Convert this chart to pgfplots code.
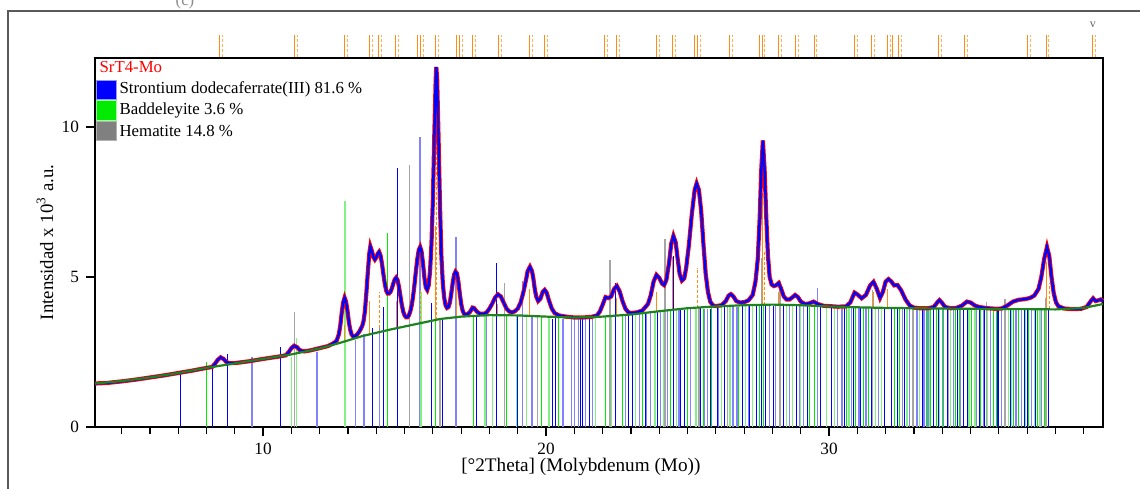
\documentclass[border=0pt]{standalone}
\usepackage{pgfplots}
\pgfplotsset{compat=1.18}
\usepackage{pgfplotstable}
\usepackage{fontspec}
\setmainfont{Liberation Serif}
\definecolor{sblue}{RGB}{0,0,255}
\definecolor{lblue}{RGB}{130,130,255}
\definecolor{sgreen}{RGB}{0,235,0}
\definecolor{lgreen}{RGB}{130,240,130}
\definecolor{sgray}{RGB}{128,128,128}
\definecolor{lgray}{RGB}{165,165,165}
\definecolor{bggreen}{RGB}{30,130,30}
\definecolor{orng}{RGB}{255,140,20}
\definecolor{lorng}{RGB}{255,175,90}

\pgfplotstableread{
x y
4.06 1.45
4.5 1.47
5.0 1.52
5.5 1.58
6.0 1.65
6.5 1.72
7.0 1.80
7.5 1.88
8.0 1.97
8.2 2.00
8.3 2.11
8.4 2.24
8.5 2.32
8.6 2.27
8.7 2.17
8.8 2.13
9.0 2.13
9.5 2.19
10.0 2.27
10.5 2.34
10.8 2.39
10.9 2.49
11.0 2.63
11.1 2.71
11.2 2.66
11.3 2.56
11.45 2.52
11.7 2.56
12.0 2.63
12.3 2.70
12.5 2.80
12.6 2.88
12.68 3.10
12.73 3.40
12.78 3.82
12.83 4.15
12.88 4.31
12.93 4.18
12.98 3.89
13.03 3.50
13.08 3.24
13.13 3.08
13.2 3.00
13.3 3.06
13.4 3.18
13.5 3.36
13.55 3.53
13.6 3.88
13.65 4.48
13.7 5.15
13.75 5.76
13.79 6.02
13.85 5.85
13.9 5.66
13.95 5.58
14.0 5.65
14.05 5.78
14.1 5.84
14.15 5.72
14.2 5.45
14.25 5.10
14.3 4.78
14.35 4.55
14.4 4.45
14.45 4.45
14.5 4.50
14.55 4.62
14.6 4.78
14.65 4.92
14.7 4.98
14.75 4.90
14.8 4.68
14.85 4.38
14.9 4.08
14.95 3.85
15.0 3.72
15.05 3.66
15.1 3.66
15.15 3.72
15.2 3.85
15.25 4.05
15.3 4.35
15.35 4.75
15.4 5.20
15.45 5.60
15.5 5.90
15.55 6.00
15.6 5.85
15.65 5.45
15.7 4.98
15.75 4.65
15.8 4.57
15.85 4.72
15.9 5.20
15.95 6.10
16.0 7.60
16.05 9.70
16.1 11.60
16.12 12.00
16.15 11.60
16.2 9.60
16.25 7.40
16.3 5.70
16.35 4.80
16.4 4.30
16.45 4.05
16.5 3.97
16.55 4.00
16.6 4.15
16.65 4.45
16.7 4.80
16.75 5.08
16.8 5.18
16.85 5.12
16.9 4.85
16.95 4.45
17.0 4.10
17.05 3.88
17.1 3.78
17.15 3.75
17.2 3.75
17.3 3.82
17.4 3.98
17.45 3.97
17.55 3.85
17.65 3.78
17.8 3.77
17.9 3.82
18.0 3.95
18.1 4.12
18.2 4.32
18.3 4.42
18.4 4.35
18.5 4.15
18.6 3.95
18.7 3.85
18.8 3.82
18.9 3.86
19.0 3.95
19.1 4.15
19.2 4.50
19.3 4.95
19.35 5.20
19.43 5.34
19.5 5.20
19.55 4.95
19.6 4.60
19.65 4.35
19.72 4.20
19.8 4.28
19.88 4.50
19.95 4.57
20.02 4.48
20.1 4.22
20.2 3.95
20.3 3.80
20.45 3.72
20.7 3.68
21.0 3.65
21.3 3.65
21.6 3.67
21.8 3.72
21.9 3.85
22.0 4.08
22.1 4.33
22.2 4.30
22.3 4.35
22.4 4.60
22.5 4.70
22.6 4.52
22.7 4.20
22.8 3.95
22.9 3.83
23.0 3.80
23.2 3.82
23.4 3.88
23.6 4.10
23.7 4.40
23.8 4.85
23.9 5.07
24.0 4.97
24.1 4.78
24.17 4.73
24.25 4.90
24.35 5.50
24.42 6.10
24.5 6.37
24.58 6.15
24.65 5.60
24.72 5.10
24.8 4.88
24.88 4.95
24.95 5.30
25.05 6.10
25.15 7.10
25.25 7.90
25.32 8.12
25.4 7.90
25.48 7.20
25.56 6.10
25.64 5.10
25.72 4.50
25.8 4.18
25.9 4.05
26.0 4.03
26.2 4.06
26.35 4.20
26.45 4.38
26.53 4.43
26.62 4.35
26.72 4.20
26.85 4.15
27.0 4.16
27.15 4.22
27.3 4.40
27.4 4.85
27.48 5.60
27.55 7.00
27.6 8.50
27.66 9.55
27.72 8.60
27.78 7.00
27.84 5.70
27.9 5.00
27.97 4.75
28.05 4.70
28.12 4.72
28.22 4.80
28.3 4.62
28.4 4.35
28.5 4.25
28.6 4.25
28.7 4.32
28.8 4.40
28.9 4.33
29.0 4.18
29.15 4.10
29.3 4.12
29.45 4.18
29.6 4.10
29.8 4.04
30.0 4.03
30.3 4.01
30.6 4.02
30.75 4.15
30.9 4.48
31.0 4.42
31.15 4.29
31.3 4.40
31.45 4.72
31.57 4.84
31.68 4.62
31.8 4.30
31.9 4.50
32.0 4.85
32.1 4.93
32.2 4.85
32.3 4.72
32.42 4.73
32.55 4.55
32.7 4.25
32.85 4.05
33.0 3.98
33.2 3.96
33.5 3.96
33.7 4.00
33.82 4.15
33.9 4.23
33.98 4.15
34.1 4.00
34.3 3.96
34.5 3.97
34.7 4.05
34.87 4.18
35.0 4.15
35.15 4.05
35.3 4.00
35.6 3.96
35.9 3.94
36.1 3.95
36.3 4.05
36.5 4.18
36.7 4.24
36.9 4.26
37.1 4.30
37.25 4.38
37.4 4.60
37.5 5.00
37.6 5.60
37.7 6.00
37.78 5.70
37.86 5.00
37.94 4.45
38.02 4.15
38.1 4.03
38.3 3.95
38.6 3.93
38.9 3.94
39.1 4.00
39.25 4.20
39.33 4.29
39.42 4.20
39.5 4.22
39.6 4.25
39.68 4.20
}\calc

\pgfplotstableread{
x y
4.06 1.45
5 1.53
6 1.65
7 1.80
8 1.97
9 2.12
10 2.27
11 2.42
12 2.62
12.7 2.80
13.5 3.03
14.5 3.25
15.5 3.45
16.25 3.60
17 3.68
18 3.73
19 3.72
20 3.68
21 3.65
22 3.68
23 3.75
24 3.86
25 3.96
26 4.02
27 4.06
28 4.08
29 4.06
30 4.02
31 3.99
32 3.97
33 3.96
34 3.95
35 3.94
36 3.93
37 3.93
38 3.92
39 3.97
39.68 4.10
}\bkg

\begin{document}
\begin{tikzpicture}[font=\fontsize{8.4}{10}\selectfont]
\useasboundingbox (0,0) rectangle (570pt,-244pt);
% outer frame
\draw[line width=1pt, color=black!65] (4pt,-250pt) -- (4pt,-5.5pt) -- (580pt,-5.5pt);
\node[text=black!45, anchor=center] at (92.5pt,-0.5pt) {(c)};
\begin{axis}[
  at={(47.5pt,-213.5pt)}, anchor=south west,
  scale only axis, width=504pt, height=184.5pt,
  xmin=4.06, xmax=39.68, ymin=0, ymax=12.3,
  clip=false,
  axis line style={line width=1pt},
  xtick={10,20,30}, ytick={0,5,10},
  minor xtick={5,6,7,8,9,11,12,13,14,15,16,17,18,19,21,22,23,24,25,26,27,28,29,31,32,33,34,35,36,37,38,39},
  tick align=outside, tick pos=left,
  major tick length=4.5pt, minor tick length=3.5pt,
  every tick/.style={black, line width=0.6pt},
  /pgf/number format/assume math mode=true,
  ticklabel style={font=\fontsize{8.6}{10}\selectfont},
  xlabel={[°2Theta] (Molybdenum (Mo))},
  ylabel={Intensidad x 10\textsuperscript{3} a.u.},
  xlabel style={at={(axis description cs:0.482,-0.108)}, anchor=center, font=\fontsize{9.6}{11}\selectfont},
  ylabel style={at={(axis description cs:-0.0496,0.5)}, anchor=center, font=\fontsize{9.4}{11}\selectfont},
  unbounded coords=jump,
]
% reference sticks
\addplot[ycomb, color=lblue, line width=0.7pt, mark=none] coordinates {
(9.61,2.34) (11.9,2.51) (13.27,2.9) (13.57,3.1) (14.11,3.4) (15.55,9.67) (16.82,6.34) (17.9,3.7) (19.16,4.87) (19.5,3.75) (20.6,3.6) (21.0,3.6) (21.4,3.6) (21.63,3.62) (22.8,3.75) (23.3,3.8) (23.7,3.82) (24.3,3.9) (24.7,3.9) (25.1,3.95) (25.6,3.95) (26.1,4.0) (26.6,4.0) (27.15,4.05) (27.9,4.05) (28.1,4.05) (28.6,4.05) (29.1,4.05) (29.6,4.64) (30.3,4.0) (30.8,4.0) (31.3,4.0) (31.75,4.0) (32.6,3.98) (33.1,3.95) (33.5,3.95) (34.0,3.95) (34.4,3.95) (35.2,3.95) (35.7,3.95) (36.1,3.95) (36.8,3.9) (37.15,3.9) (37.5,3.9)
(20.9,3.6) (21.15,3.6) (23.55,3.8) (24.05,3.85) (25.7,3.95) (26.75,4.0) (28.95,4.05) (30.45,4.0) (31.05,4.0) (32.85,3.96) (33.35,3.95) (34.65,3.95) (35.45,3.95) (36.6,3.92)};
\addplot[ycomb, color=lgreen, line width=0.7pt, mark=none] coordinates {
(11.01,2.34) (11.19,2.97) (12.9,7.54) (15.58,4.51) (17.84,3.7) (18.95,3.7) (20.1,3.68) (22.3,3.7) (23.15,3.8) (23.85,3.85) (24.6,3.9) (25.3,3.95) (26.2,4.0) (26.5,4.0) (27.3,4.05) (28.5,4.05) (29.0,4.05) (29.9,4.0) (30.2,4.0) (30.7,4.0) (31.65,4.0) (32.75,3.98) (33.2,3.95) (33.9,3.95) (34.3,3.95) (34.95,3.95) (35.6,3.95) (36.2,3.95) (36.45,3.95) (36.95,3.9) (37.45,3.9)
(18.1,3.7) (19.3,3.7) (21.75,3.65) (24.15,3.88) (27.05,4.05) (28.7,4.05) (31.85,4.0) (33.55,3.95) (35.15,3.95) (36.35,3.95) (37.25,3.9)};
\addplot[ycomb, color=sgreen, line width=0.5pt, mark=none] coordinates {
(8.0,2.18) (14.4,6.47) (16.08,3.8) (17.43,3.7) (18.6,3.7) (19.85,3.7) (22.1,3.7) (23.4,3.8) (24.4,3.9) (25.0,3.95) (25.55,3.95) (26.8,4.0) (27.55,4.05) (27.7,4.05) (28.3,4.05) (29.3,4.05) (30.6,4.0) (31.2,4.0) (31.4,4.0) (32.3,4.0) (32.5,4.0) (33.0,3.95) (33.45,3.95) (33.6,3.95) (33.8,3.95) (34.05,3.95) (34.6,3.95) (35.05,3.95) (35.35,3.95) (35.8,3.95) (36.5,3.95) (36.7,3.95) (37.05,3.9) (37.35,3.9) (37.6,3.9)
(20.45,3.65) (22.7,3.72) (25.85,3.98) (29.5,4.05) (30.95,4.0) (34.45,3.95) (35.9,3.95)};
\addplot[ycomb, color=lgray, line width=0.7pt, mark=none] coordinates {
(11.12,3.84) (15.17,8.73) (16.25,3.6) (18.52,4.81) (19.69,3.75) (22.26,5.57) (24.2,6.27) (25.4,4.0) (26.4,4.0) (27.62,5.63) (28.27,4.88) (31.53,4.57) (32.97,3.95) (34.22,4.0) (35.57,4.18) (36.22,4.27) (37.67,4.3)};
\addplot[ycomb, color=sblue, line width=0.5pt, mark=none] coordinates {
(7.08,1.81) (8.21,2.07) (8.74,2.43) (10.62,2.68) (13.88,3.3) (14.25,4.0) (14.75,8.63) (15.96,4.13) (16.35,3.63) (17.53,3.7) (18.23,5.47) (19.0,3.7) (20.22,3.6) (20.34,3.65) (21.3,3.6) (21.55,3.62) (22.44,4.8) (23.05,3.75) (23.5,3.8) (23.95,3.85) (24.5,5.7) (24.9,3.9) (25.44,4.0) (25.8,3.95) (26.3,4.0) (26.95,4.05) (27.45,4.05) (27.62,4.1) (27.75,4.05) (28.4,4.05) (28.85,4.05) (29.7,4.0) (30.1,4.0) (30.55,3.98) (31.1,4.0) (31.5,4.0) (31.95,4.0) (32.2,4.0) (32.4,4.0) (33.3,3.95) (33.7,3.95) (34.2,3.95) (34.55,3.95) (34.75,3.95) (34.9,3.95) (35.5,3.95) (35.95,3.95) (36.0,3.95) (37.0,3.9) (37.3,3.9) (37.75,3.9)
(21.2,3.6) (22.9,3.75) (24.75,3.9) (26.05,4.0) (27.2,4.05) (28.05,4.05) (29.25,4.05) (30.85,4.0) (32.65,3.97) (33.85,3.95) (35.3,3.95) (36.4,3.95) (36.9,3.92)};
% orange peak markers inside
\addplot[color=orng, line width=0.5pt, mark=none] coordinates {
(12.88,2.85) (12.88,3.4) (12.88,nan)
(13.75,3.1) (13.75,4.2) (13.75,nan)
(14.7,3.3) (14.7,4.2) (14.7,nan)
(16.10,3.58) (16.10,6.7) (16.10,nan)
(16.82,3.65) (16.82,4.6) (16.82,nan)
(18.3,3.73) (18.3,4.1) (18.3,nan)
(19.43,3.72) (19.43,4.6) (19.43,nan)
(22.48,3.7) (22.48,4.3) (22.48,nan)
(23.9,3.85) (23.9,4.5) (23.9,nan)
(24.48,3.9) (24.48,5.68) (24.48,nan)
(27.64,4.08) (27.64,7.8) (27.64,nan)
(28.22,4.08) (28.22,4.5) (28.22,nan)
(31.57,3.99) (31.57,4.5) (31.57,nan)
(32.08,3.97) (32.08,4.6) (32.08,nan)
(37.7,3.93) (37.7,5.5)};
\addplot[color=orng, line width=0.5pt, dash pattern=on 1.5pt off 1pt, mark=none] coordinates {
(14.12,3.15) (14.12,4.5) (14.12,nan)
(15.55,3.45) (15.55,4.6) (15.55,nan)
(16.14,3.58) (16.14,9.67) (16.14,nan)
(25.35,3.96) (25.35,5.3) (25.35,nan)
(27.72,4.08) (27.72,5.9) (27.72,nan)
(37.8,3.93) (37.8,4.8)};
% top orange reflection ticks
\addplot[color=orng, line width=0.5pt, mark=none] coordinates {
(8.46,12.33) (8.46,13.07) (8.46,nan) (11.11,12.33) (11.11,13.07) (11.11,nan)
(12.87,12.33) (12.87,13.07) (12.87,nan) (13.76,12.33) (13.76,13.07) (13.76,nan)
(14.07,12.33) (14.07,13.07) (14.07,nan) (14.67,12.33) (14.67,13.07) (14.67,nan)
(15.47,12.33) (15.47,13.07) (15.47,nan) (15.57,12.33) (15.57,13.07) (15.57,nan)
(16.10,12.33) (16.10,13.07) (16.10,nan) (16.82,12.33) (16.82,13.07) (16.82,nan)
(16.95,12.33) (16.95,13.07) (16.95,nan) (17.40,12.33) (17.40,13.07) (17.40,nan)
(18.31,12.33) (18.31,13.07) (18.31,nan) (19.41,12.33) (19.41,13.07) (19.41,nan)
(19.94,12.33) (19.94,13.07) (19.94,nan) (22.06,12.33) (22.06,13.07) (22.06,nan)
(22.48,12.33) (22.48,13.07) (22.48,nan) (23.89,12.33) (23.89,13.07) (23.89,nan)
(24.46,12.33) (24.46,13.07) (24.46,nan) (25.24,12.33) (25.24,13.07) (25.24,nan)
(25.35,12.33) (25.35,13.07) (25.35,nan) (26.48,12.33) (26.48,13.07) (26.48,nan)
(27.53,12.33) (27.53,13.07) (27.53,nan) (27.63,12.33) (27.63,13.07) (27.63,nan)
(28.22,12.33) (28.22,13.07) (28.22,nan) (28.81,12.33) (28.81,13.07) (28.81,nan)
(29.47,12.33) (29.47,13.07) (29.47,nan) (30.89,12.33) (30.89,13.07) (30.89,nan)
(31.51,12.33) (31.51,13.07) (31.51,nan) (32.06,12.33) (32.06,13.07) (32.06,nan)
(32.25,12.33) (32.25,13.07) (32.25,nan) (32.45,12.33) (32.45,13.07) (32.45,nan)
(33.86,12.33) (33.86,13.07) (33.86,nan) (34.78,12.33) (34.78,13.07) (34.78,nan)
(37.02,12.33) (37.02,13.07) (37.02,nan) (37.67,12.33) (37.67,13.07) (37.67,nan)
(39.32,12.33) (39.32,13.07)};
\addplot[color=lorng, line width=0.5pt, dash pattern=on 1.5pt off 1pt, mark=none] coordinates {
(8.56,12.33) (8.56,13.07) (8.56,nan) (11.21,12.33) (11.21,13.07) (11.21,nan)
(12.97,12.33) (12.97,13.07) (12.97,nan) (13.86,12.33) (13.86,13.07) (13.86,nan)
(14.17,12.33) (14.17,13.07) (14.17,nan) (14.77,12.33) (14.77,13.07) (14.77,nan)
(15.67,12.33) (15.67,13.07) (15.67,nan) (16.20,12.33) (16.20,13.07) (16.20,nan)
(17.05,12.33) (17.05,13.07) (17.05,nan) (17.50,12.33) (17.50,13.07) (17.50,nan)
(18.41,12.33) (18.41,13.07) (18.41,nan) (19.51,12.33) (19.51,13.07) (19.51,nan)
(20.04,12.33) (20.04,13.07) (20.04,nan) (22.16,12.33) (22.16,13.07) (22.16,nan)
(22.58,12.33) (22.58,13.07) (22.58,nan) (23.99,12.33) (23.99,13.07) (23.99,nan)
(24.56,12.33) (24.56,13.07) (24.56,nan) (25.45,12.33) (25.45,13.07) (25.45,nan)
(26.58,12.33) (26.58,13.07) (26.58,nan) (27.73,12.33) (27.73,13.07) (27.73,nan)
(28.32,12.33) (28.32,13.07) (28.32,nan) (28.91,12.33) (28.91,13.07) (28.91,nan)
(29.57,12.33) (29.57,13.07) (29.57,nan) (30.99,12.33) (30.99,13.07) (30.99,nan)
(31.61,12.33) (31.61,13.07) (31.61,nan) (32.16,12.33) (32.16,13.07) (32.16,nan)
(32.55,12.33) (32.55,13.07) (32.55,nan) (33.96,12.33) (33.96,13.07) (33.96,nan)
(34.88,12.33) (34.88,13.07) (34.88,nan) (37.12,12.33) (37.12,13.07) (37.12,nan)
(37.77,12.33) (37.77,13.07) (37.77,nan) (39.42,12.33) (39.42,13.07)};
% observed, calculated, background
\addplot[color=red, line width=2.1pt, mark=none] table[x=x,y=y] {\calc};
\addplot[color=sblue, line width=1.2pt, mark=none] table[x=x,y=y] {\calc};
\addplot[color=bggreen, line width=1.1pt, mark=none] table[x=x,y=y] {\bkg};
\node[text=black!60, font=\fontsize{6}{6}\selectfont] at (axis cs:39.32,13.4) {v};
\end{axis}
% legend
\node[anchor=west, text=red, inner sep=0pt] at (49.6pt,-33.6pt) {SrT4-Mo};
\filldraw[fill=sblue, draw=blue!40] (48.4pt,-40pt) rectangle (58pt,-49.6pt);
\filldraw[fill=sgreen, draw=green!40] (48.4pt,-50.4pt) rectangle (58pt,-60pt);
\filldraw[fill=sgray, draw=black!30] (48.4pt,-60.8pt) rectangle (58pt,-70.4pt);
\node[anchor=west, inner sep=0pt] at (59.6pt,-44.8pt) {Strontium dodecaferrate(III) 81.6 \%};
\node[anchor=west, inner sep=0pt] at (59.6pt,-55.2pt) {Baddeleyite 3.6 \%};
\node[anchor=west, inner sep=0pt] at (59.6pt,-65.6pt) {Hematite 14.8 \%};
\end{tikzpicture}
\end{document}
